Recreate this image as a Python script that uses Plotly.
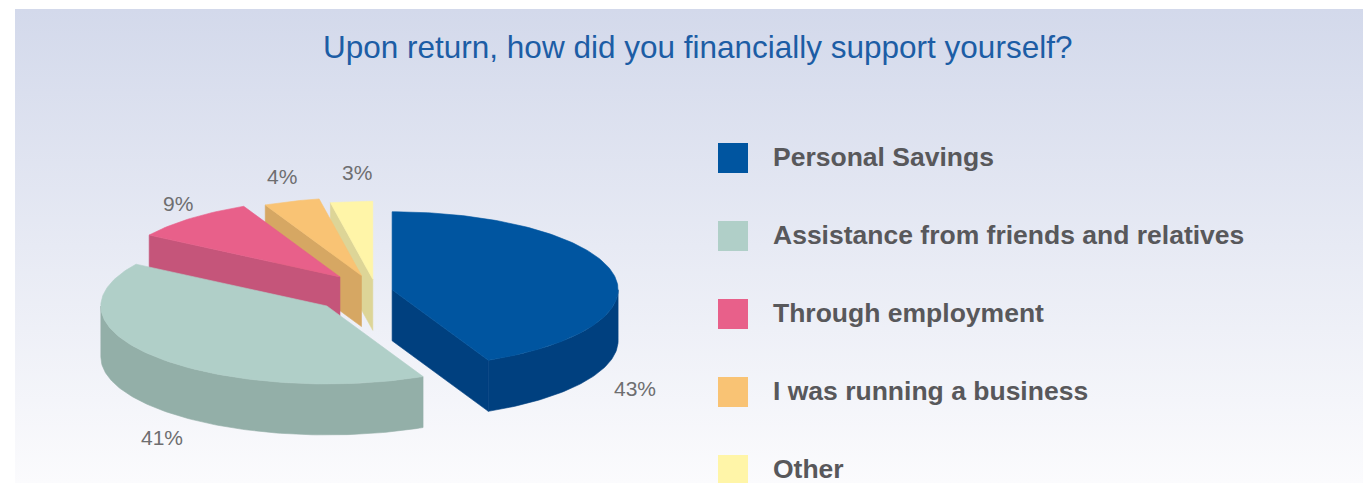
import math
import plotly.graph_objects as go

# ---- data -------------------------------------------------------------
categories = [
    "Personal Savings",
    "Assistance from friends and relatives",
    "Through employment",
    "I was running a business",
    "Other",
]
shares = [43, 41, 9, 4, 3]
share_labels = ["43%", "41%", "9%", "4%", "3%"]

# ---- styling ----------------------------------------------------------
top_colors = ["#0055A0", "#B0CFC8", "#E8608A", "#F9C374", "#FFF5A8"]
side_colors = ["#00407F", "#93AFA8", "#C5557A", "#D6A763", "#DDD597"]
pull = [0.073, 0.290, 0.241, 0.208, 0.150]          # explode, fraction of radius
label_shift = [(22, 116), (5, 80), (-13, -15), (-10, -25), (5, -29)]

W, H = 1363, 483
CX, CY = 376, 291          # pie centre (px)
RX, RY = 226, 78           # ellipse radii of the tilted top face
DEPTH = 51                 # extrusion height
TITLE = "Upon return, how did you financially support yourself?"

fig = go.Figure()

# background panel with a vertical gradient
fig.add_trace(go.Scatter(
    x=[15, W, W, 15, 15], y=[9, 9, H, H, 9], mode="lines",
    fill="toself", line=dict(width=0),
    fillgradient=dict(type="vertical", start=9, stop=H,
                      colorscale=[[0, "#D3D9EB"], [1, "#FBFBFD"]]),
    hoverinfo="skip", showlegend=False,
))


def rim(ax, ay, deg):
    r = math.radians(deg)
    return ax + RX * math.sin(r), ay - RY * math.cos(r)


def arc(ax, ay, a0, a1):
    n = max(2, int(abs(a1 - a0)) + 1)
    return [rim(ax, ay, a0 + (a1 - a0) * k / (n - 1)) for k in range(n)]


def poly(pts, color):
    xs = [p[0] for p in pts] + [pts[0][0]]
    ys = [p[1] for p in pts] + [pts[0][1]]
    fig.add_trace(go.Scatter(
        x=xs, y=ys, mode="lines", fill="toself", fillcolor=color,
        line=dict(width=0.6, color=color), hoverinfo="skip", showlegend=False,
    ))


total = sum(shares)
slices = []
acc = 0.0
for i, v in enumerate(shares):
    a0 = acc / total * 360.0
    acc += v
    a1 = acc / total * 360.0
    mid = (a0 + a1) / 2
    mr = math.radians(mid)
    ax = CX + pull[i] * RX * math.sin(mr)
    ay = CY - pull[i] * RY * math.cos(mr)
    slices.append(dict(i=i, a0=a0, a1=a1, mid=mid, ax=ax, ay=ay))

# paint from the back of the pie to the front
for s in sorted(slices, key=lambda s: -math.cos(math.radians(s["mid"]))):
    i, a0, a1, ax, ay = s["i"], s["a0"], s["a1"], s["ax"], s["ay"]
    side = side_colors[i]
    # radial walls facing the viewer
    if math.sin(math.radians(a0)) < -1e-6:
        p = rim(ax, ay, a0)
        poly([(ax, ay), p, (p[0], p[1] + DEPTH), (ax, ay + DEPTH)], side)
    if math.sin(math.radians(a1)) > 1e-6:
        p = rim(ax, ay, a1)
        poly([(ax, ay), p, (p[0], p[1] + DEPTH), (ax, ay + DEPTH)], side)
    # curved outer wall on the front half
    lo, hi = max(a0, 90.0), min(a1, 270.0)
    if hi > lo:
        top = arc(ax, ay, lo, hi)
        bottom = [(x, y + DEPTH) for x, y in reversed(top)]
        poly(top + bottom, side)
    # top face
    poly([(ax, ay)] + arc(ax, ay, a0, a1), top_colors[i])

# percentage labels
for s in slices:
    i = s["i"]
    px, py = rim(s["ax"], s["ay"], s["mid"])
    dx, dy = label_shift[i]
    fig.add_annotation(
        x=px + dx, y=py + dy, text=share_labels[i], showarrow=False,
        xanchor="center", yanchor="middle",
        font=dict(family="Liberation Sans, Arial, sans-serif", size=21, color="#6E6E70"),
    )

# legend
LEG_X, LEG_Y0, LEG_STEP = 733, 158, 78
fig.add_trace(go.Scatter(
    x=[LEG_X] * len(categories),
    y=[LEG_Y0 + LEG_STEP * k for k in range(len(categories))],
    mode="markers",
    marker=dict(symbol="square", size=30, color=top_colors, line=dict(width=0)),
    hoverinfo="skip", showlegend=False,
))
for k, name in enumerate(categories):
    fig.add_annotation(
        x=LEG_X + 38, y=LEG_Y0 + LEG_STEP * k - 1, text="<b>%s</b>" % name,
        showarrow=False, xanchor="left", yanchor="middle",
        font=dict(family="Liberation Sans, Arial, sans-serif", size=26.5, color="#58585B"),
    )

# title
fig.add_annotation(
    x=697, y=47, text=TITLE, showarrow=False, xanchor="center", yanchor="middle",
    font=dict(family="Liberation Sans, Arial, sans-serif", size=31.5, color="#1C5DA5"),
)

fig.update_layout(
    width=W, height=H, autosize=False,
    margin=dict(l=0, r=0, t=0, b=0),
    paper_bgcolor="white", plot_bgcolor="rgba(0,0,0,0)",
    xaxis=dict(range=[0, W], visible=False, fixedrange=True),
    yaxis=dict(range=[H, 0], visible=False, fixedrange=True),
    showlegend=False,
)

fig.write_html("out.html")
